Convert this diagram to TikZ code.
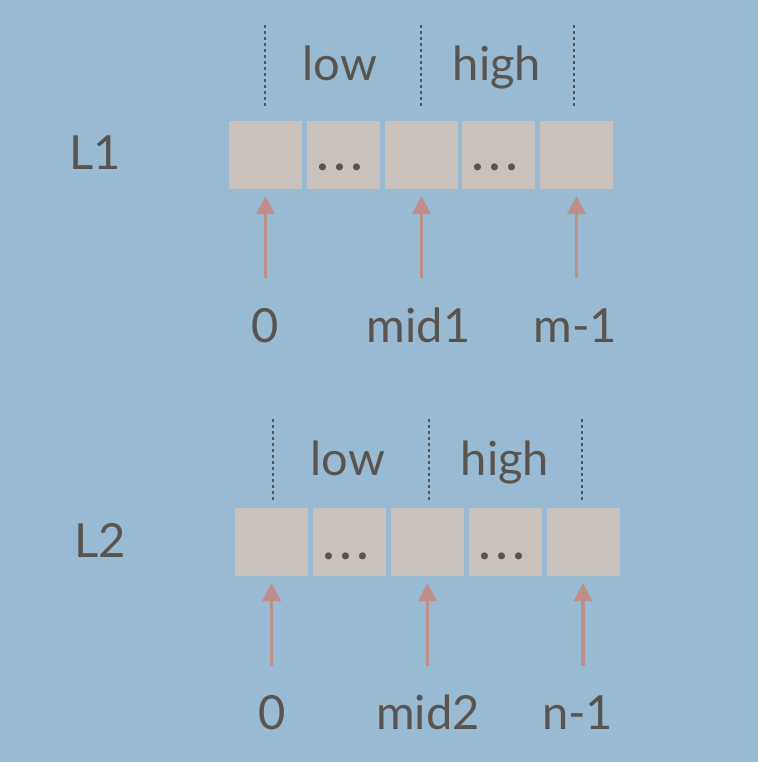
\documentclass[tikz,border=0pt]{standalone}
\usepackage{fontspec}
\setmainfont{Lato}
\usetikzlibrary{arrows.meta}
\definecolor{bgc}{HTML}{98BAD2}
\definecolor{boxc}{HTML}{C9C1BC}
\definecolor{txtc}{HTML}{59544F}
\definecolor{arrc}{HTML}{C08E88}
\tikzset{
  cell/.style={fill=boxc, minimum width=73pt, minimum height=68pt, inner sep=0pt, outer sep=0pt},
  lbl/.style={text=txtc, font=\fontsize{47}{52}\selectfont, inner sep=0pt, anchor=base},
  dotsl/.style={text=txtc, font=\fontsize{46}{50}\selectfont\bfseries, inner sep=0pt, anchor=base},
  divider/.style={draw=txtc, line width=1.8pt, dash pattern=on 3pt off 3pt},
  ptr/.style={draw=arrc, line width=3.5pt, -{Triangle[width=18pt,length=18pt]}, shorten >=7pt}
}
\newcommand{\celldots}{.\hspace{6.5pt}.\hspace{6.5pt}.}
\begin{document}
\begin{tikzpicture}[x=1pt,y=-1pt]
\fill[bgc] (0,0) rectangle (758,762);
\useasboundingbox (0,0) rectangle (758,762);
% ---------- L1 ----------
\node[lbl, anchor=base west] (L1) at (69,169) {L1};
\node[cell] (a1) at (265.5,155) {};
\node[cell] (a2) at (343.5,155) {};
\node[cell] (a3) at (421.5,155) {};
\node[cell] (a4) at (498.5,155) {};
\node[cell] (a5) at (576.5,155) {};
\node[dotsl] (ad1) at (340,171) {\celldots};
\node[dotsl] (ad2) at (495,171) {\celldots};
\node[lbl] (alow) at (340,81) {low};
\node[lbl] (ahigh) at (497,81) {high};
\coordinate (av1t) at (265,25); \coordinate (av1b) at (265,107);
\coordinate (av2t) at (421,25); \coordinate (av2b) at (421,107);
\coordinate (av3t) at (574,25); \coordinate (av3b) at (574,107);
\draw[divider] (av1t) -- (av1b);
\draw[divider] (av2t) -- (av2b);
\draw[divider] (av3t) -- (av3b);
\coordinate (ap1) at (265.5,278);
\coordinate (ap2) at (421.5,278);
\coordinate (ap3) at (576.5,278);
\draw[ptr] (ap1) -- (a1.south);
\draw[ptr] (ap2) -- (a3.south);
\draw[ptr] (ap3) -- (a5.south);
\node[lbl] (ai0) at (265,342) {0};
\node[lbl] (aim) at (418.5,342) {mid1};
\node[lbl] (aie) at (575,342) {m-1};
% ---------- L2 ----------
\node[lbl, anchor=base west] (L2) at (74,557) {L2};
\node[cell] (b1) at (271.5,542) {};
\node[cell] (b2) at (349.5,542) {};
\node[cell] (b3) at (427.5,542) {};
\node[cell] (b4) at (505,542) {};
\node[cell] (b5) at (583,542) {};
\node[dotsl] (bd1) at (346,559) {\celldots};
\node[dotsl] (bd2) at (502,559) {\celldots};
\node[lbl] (blow) at (348,475) {low};
\node[lbl] (bhigh) at (505,475) {high};
\coordinate (bv1t) at (273,419); \coordinate (bv1b) at (273,500);
\coordinate (bv2t) at (429,419); \coordinate (bv2b) at (429,500);
\coordinate (bv3t) at (582,419); \coordinate (bv3b) at (582,500);
\draw[divider] (bv1t) -- (bv1b);
\draw[divider] (bv2t) -- (bv2b);
\draw[divider] (bv3t) -- (bv3b);
\coordinate (bp1) at (271.5,666);
\coordinate (bp2) at (427.5,666);
\coordinate (bp3) at (583,666);
\draw[ptr] (bp1) -- (b1.south);
\draw[ptr] (bp2) -- (b3.south);
\draw[ptr] (bp3) -- (b5.south);
\node[lbl] (bi0) at (272,729) {0};
\node[lbl] (bim) at (428,729) {mid2};
\node[lbl] (bie) at (577.5,729) {n-1};
\end{tikzpicture}
\end{document}
